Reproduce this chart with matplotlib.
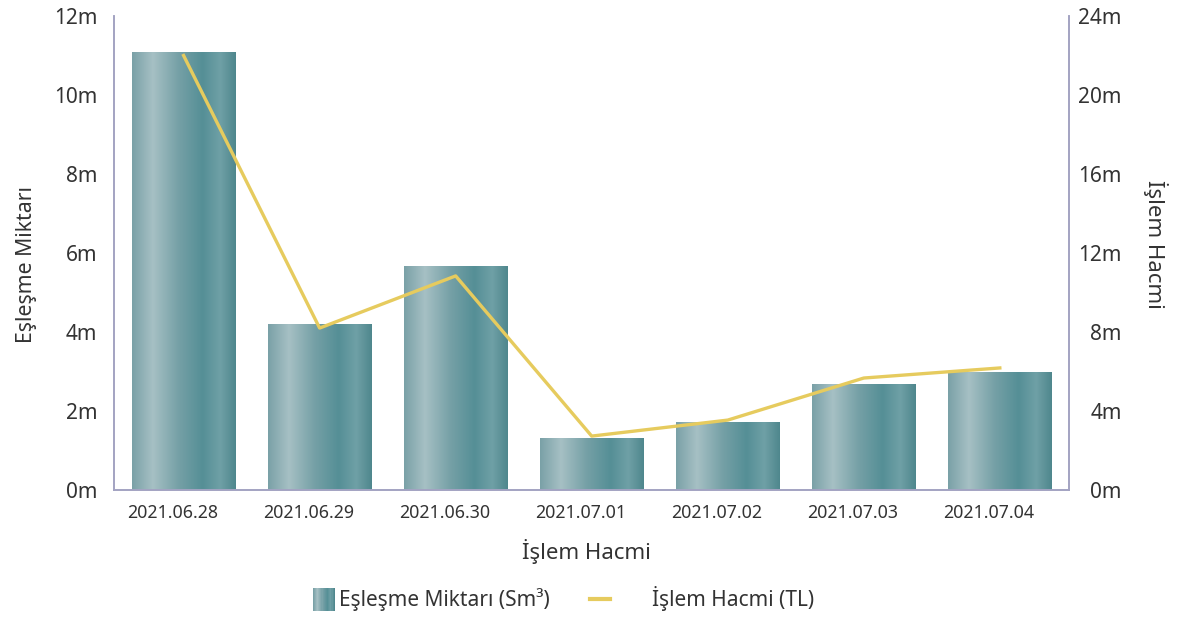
import numpy as np
import matplotlib.pyplot as plt
from matplotlib.colors import LinearSegmentedColormap
from matplotlib.legend_handler import HandlerBase
from matplotlib.patches import Rectangle
from matplotlib.lines import Line2D
from matplotlib.ticker import FuncFormatter
from matplotlib.transforms import ScaledTranslation

# -----------------------------
# DATA
# -----------------------------
dates = ["2021.06.28", "2021.06.29", "2021.06.30", "2021.07.01",
         "2021.07.02", "2021.07.03", "2021.07.04"]
eslesme_miktari = [11.09, 4.20, 5.67, 1.32, 1.72, 2.68, 2.99]   # million Sm3
islem_hacmi = [22.0, 8.2, 10.84, 2.73, 3.54, 5.67, 6.18]        # million TL

plt.rcParams["font.family"] = ["Noto Sans", "DejaVu Sans"]

axis_col = "#a3a3c2"
text_col = "#333333"
line_col = "#e6cb5e"

# horizontal gradient used for the bars
bar_cmap = LinearSegmentedColormap.from_list(
    "bar_grad",
    [(0.0, "#7aa1a7"), (0.2, "#a6c0c4"), (0.45, "#75a0a6"),
     (0.68, "#558f96"), (0.85, "#6fa0a6"), (1.0, "#4f878d")])
grad = np.linspace(0, 1, 256).reshape(1, -1)

fig = plt.figure(figsize=(11.77, 6.18), dpi=100)
ax = fig.add_axes([0.0969, 0.2071, 0.8114, 0.7670])
ax2 = ax.twinx()

x = np.arange(len(dates))
bars = ax.bar(x, eslesme_miktari, width=0.758, color="none", zorder=2)
for b in bars:
    x0, y0 = b.get_x(), b.get_y()
    im = ax.imshow(grad, cmap=bar_cmap, aspect="auto", zorder=2,
                   extent=[x0, x0 + b.get_width(), y0, y0 + b.get_height()])
    im.set_clip_path(b)

ax2.plot(x, islem_hacmi, color=line_col, lw=2.4, zorder=3)

ax.set_xlim(-0.511, 6.509)
ax.set_ylim(0, 12)
ax2.set_ylim(0, 24)
ax.set_yticks(np.arange(0, 13, 2))
ax2.set_yticks(np.arange(0, 25, 4))
fmt = FuncFormatter(lambda v, p: f"{v:.0f}m")
ax.yaxis.set_major_formatter(fmt)
ax2.yaxis.set_major_formatter(fmt)
ax.set_xticks(x)
ax.set_xticklabels(dates)

for a in (ax, ax2):
    a.spines["top"].set_visible(False)
    for s in ("left", "right", "bottom"):
        a.spines[s].set_color(axis_col)
        a.spines[s].set_linewidth(1.2)
    a.tick_params(length=0, colors=text_col)
    a.tick_params(axis="y", labelsize=15)
ax.tick_params(axis="y", pad=12)
ax2.tick_params(axis="y", pad=38)
for lbl in ax2.get_yticklabels():
    lbl.set_horizontalalignment("right")
ax.tick_params(axis="x", labelsize=12.8, pad=10)
# date labels sit a little left of the bar centres in the original
shift = ScaledTranslation(-0.11, 0, fig.dpi_scale_trans)
for lbl in ax.get_xticklabels():
    lbl.set_transform(lbl.get_transform() + shift)
ax2.set_zorder(ax.get_zorder() + 1)
ax2.patch.set_visible(False)

ax.set_ylabel("Eşleşme Miktarı", fontsize=15.3, color=text_col)
ax.yaxis.set_label_coords(-0.081, 0.475)
ax2.set_ylabel("İşlem Hacmi", fontsize=16, color=text_col, rotation=270)
ax2.yaxis.set_label_coords(1.104, 0.519)
ax.set_xlabel("İşlem Hacmi", fontsize=16, color=text_col)
ax.xaxis.set_label_coords(0.4948, -0.103)


# legend handlers: gradient box on the right of the handle area,
# short line on the left of it
class GradientHandler(HandlerBase):
    def create_artists(self, legend, orig_handle, xdescent, ydescent,
                       width, height, fontsize, trans):
        n = 20
        box = 16.0
        w = box / n
        start = width - box - 1
        artists = []
        for i in range(n):
            r = Rectangle((start + i * w, -ydescent - 3), w * 1.05,
                          box, facecolor=bar_cmap(i / (n - 1)),
                          edgecolor="none", transform=trans)
            artists.append(r)
        return artists


class ShortLineHandler(HandlerBase):
    def create_artists(self, legend, orig_handle, xdescent, ydescent,
                       width, height, fontsize, trans):
        yc = height / 2 - ydescent
        ln = Line2D([0, 14.5], [yc, yc], color=orig_handle.get_color(),
                    lw=3, transform=trans)
        return [ln]


bar_handle = Rectangle((0, 0), 1, 1)
line_handle = Line2D([0], [0], color=line_col, lw=3)
fig.legend([bar_handle, line_handle],
           ["Eşleşme Miktarı (Sm³)", "İşlem Hacmi (TL)"],
           handler_map={Rectangle: GradientHandler(),
                        Line2D: ShortLineHandler()},
           loc="center", bbox_to_anchor=(0.4635, 0.031), ncol=2,
           frameon=False, fontsize=15, handlelength=2.85,
           columnspacing=1.9, handletextpad=0.15, labelcolor=text_col)

fig.savefig("out.png", dpi=100)
